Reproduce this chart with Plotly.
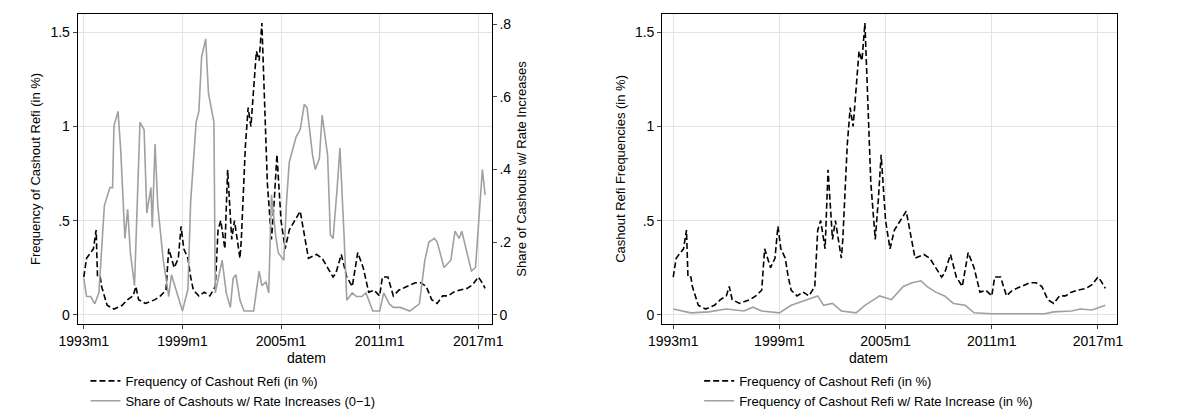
import plotly.graph_objects as go
from plotly.subplots import make_subplots

# months since 1993m1
refi_m = [0, 2, 5, 7, 9, 10, 12, 13, 17, 22, 28, 32, 36, 38, 40, 45, 52, 56, 60, 62, 64, 66, 69, 71, 73,
          76, 78, 80, 84, 88, 92, 96, 98, 100, 103, 105, 108, 110, 114, 115, 118, 120, 122, 124, 126,
          128, 130, 134, 137, 139, 141, 144, 147, 150, 154, 158, 164, 170, 174, 178, 182, 184, 188,
          192, 196, 200, 204, 208, 212, 216, 218, 222, 226, 230, 236, 242, 246, 250, 254, 258, 262,
          266, 270, 274, 280, 284, 288, 290, 293]
refi = [0.2, 0.3, 0.33, 0.35, 0.45, 0.2, 0.2, 0.15, 0.05, 0.03, 0.05, 0.08, 0.1, 0.15, 0.08, 0.06, 0.08,
        0.1, 0.13, 0.35, 0.3, 0.25, 0.3, 0.47, 0.35, 0.3, 0.2, 0.13, 0.1, 0.12, 0.1, 0.15, 0.45, 0.5,
        0.35, 0.77, 0.4, 0.5, 0.3, 0.4, 0.9, 1.1, 1.0, 1.2, 1.4, 1.35, 1.55, 0.7, 0.4, 0.6, 0.85, 0.5,
        0.35, 0.45, 0.5, 0.55, 0.3, 0.32, 0.3, 0.25, 0.2, 0.22, 0.32, 0.2, 0.15, 0.33, 0.25, 0.12, 0.13,
        0.1, 0.2, 0.2, 0.1, 0.13, 0.15, 0.17, 0.17, 0.15, 0.08, 0.06, 0.1, 0.1, 0.12, 0.13, 0.14, 0.16,
        0.2, 0.18, 0.14, 0.16]
refi = refi[:len(refi_m)]

share_m = [0, 2, 5, 8, 11, 15, 19, 21, 22, 25, 27, 30, 32, 34, 37, 41, 44, 46, 49, 50, 52, 54, 58, 62,
           64, 68, 72, 76, 78, 82, 84, 86, 89, 91, 95, 96, 101, 104, 107, 109, 111, 114, 117, 124, 128,
           130, 133, 135, 137, 140, 142, 146, 148, 150, 155, 158, 161, 163, 167, 169, 172, 174, 178,
           180, 182, 185, 187, 190, 192, 196, 199, 203, 206, 211, 216, 219, 223, 226, 231, 238, 245,
           249, 252, 256, 258, 263, 268, 271, 274, 276, 280, 283, 286, 289, 291, 293]
share = [0.1, 0.05, 0.05, 0.03, 0.06, 0.3, 0.35, 0.35, 0.52, 0.56, 0.45, 0.21, 0.29, 0.17, 0.08, 0.53,
         0.51, 0.28, 0.35, 0.24, 0.47, 0.3, 0.15, 0.05, 0.11, 0.06, 0.01, 0.07, 0.31, 0.53, 0.56, 0.71,
         0.76, 0.61, 0.53, 0.06, 0.15, 0.06, 0.02, 0.1, 0.11, 0.04, 0.01, 0.01, 0.12, 0.08, 0.09, 0.06,
         0.33, 0.22, 0.17, 0.15, 0.31, 0.42, 0.49, 0.51, 0.58, 0.57, 0.44, 0.4, 0.43, 0.55, 0.44, 0.22,
         0.21, 0.35, 0.46, 0.22, 0.04, 0.06, 0.05, 0.05, 0.06, 0.01, 0.01, 0.06, 0.03, 0.02, 0.02, 0.01,
         0.03, 0.15, 0.2, 0.21, 0.2, 0.13, 0.15, 0.23, 0.21, 0.23, 0.17, 0.12, 0.13, 0.3, 0.4, 0.33]

rate_m = [0, 6, 12, 24, 36, 48, 54, 60, 72, 80, 90, 98, 102, 108, 114, 124, 130, 136, 140, 148, 156,
          162, 168, 172, 178, 184, 190, 198, 204, 216, 234, 252, 258, 270, 276, 284, 293]
rate = [0.03, 0.02, 0.01, 0.015, 0.03, 0.02, 0.04, 0.02, 0.01, 0.05, 0.08, 0.1, 0.05, 0.06, 0.02, 0.01,
        0.05, 0.08, 0.1, 0.08, 0.15, 0.17, 0.18, 0.15, 0.12, 0.1, 0.06, 0.05, 0.01, 0.005, 0.005, 0.005,
        0.015, 0.02, 0.03, 0.025, 0.05]

tick_m = [0, 72, 144, 216, 288]
tick_lbl = ["1993m1", "1999m1", "2005m1", "2011m1", "2017m1"]

fig = make_subplots(rows=1, cols=2, specs=[[{"secondary_y": True}, {}]])

fig.add_trace(go.Scatter(x=refi_m, y=refi, mode="lines", name="Frequency of Cashout Refi (in %)",
                         line=dict(color="black", width=1.6, dash="6px,3px"), legend="legend"),
              row=1, col=1, secondary_y=False)
fig.add_trace(go.Scatter(x=share_m, y=share, mode="lines", name="Share of Cashouts w/ Rate Increases (0\u22121)",
                         line=dict(color="#a0a0a0", width=1.6), legend="legend"),
              row=1, col=1, secondary_y=True)
fig.add_trace(go.Scatter(x=refi_m, y=refi, mode="lines", name="Frequency of Cashout Refi (in %)",
                         line=dict(color="black", width=1.6, dash="6px,3px"), legend="legend2"),
              row=1, col=2)
fig.add_trace(go.Scatter(x=rate_m, y=rate, mode="lines", name="Frequency of Cashout Refi w/ Rate Increase (in %)",
                         line=dict(color="#a0a0a0", width=1.6), legend="legend2"),
              row=1, col=2)

ax = dict(showline=True, linecolor="black", linewidth=1, mirror=True, ticks="outside", ticklen=4,
          gridcolor="#e3e3e3", zeroline=False, tickfont=dict(size=14, color="black"))
fig.update_xaxes(**ax, tickvals=tick_m, ticktext=tick_lbl)
dom = [0.228, 0.985]
for xc in [(52 + 477) / 2400, (652 + 1119) / 2400]:
    fig.add_annotation(text="datem", x=xc, y=0.144, xref="paper", yref="paper",
                       showarrow=False, font=dict(size=14), yanchor="middle")
fig.update_layout(
    xaxis=dict(domain=[52 / 1200, 477 / 1200], range=[-4.5, 297.8]),
    xaxis2=dict(domain=[652 / 1200, 1119 / 1200], range=[-7.5, 301]),
    yaxis=dict(**ax, domain=dom, range=[-0.048, 1.597], tickvals=[0, 0.5, 1, 1.5],
               ticktext=["0", ".5", "1", "1.5"],
               title=dict(text="Frequency of Cashout Refi (in %)", font=dict(size=13), standoff=6)),
    yaxis2=dict(**{k: v for k, v in ax.items() if k != "gridcolor"}, showgrid=False,
                range=[-0.025, 0.828], tickvals=[0, 0.2, 0.4, 0.6, 0.8],
                ticktext=["0", ".2", ".4", ".6", ".8"],
                title=dict(text="Share of Cashouts w/ Rate Increases", font=dict(size=13), standoff=6)),
    yaxis3=dict(**ax, domain=dom, range=[-0.048, 1.597], tickvals=[0, 0.5, 1, 1.5],
                ticktext=["0", ".5", "1", "1.5"],
                title=dict(text="Cashout Refi Frequencies (in %)", font=dict(size=13), standoff=6)),
    legend=dict(x=60 / 1200, y=0.125, xanchor="left", yanchor="top", font=dict(size=13),
                tracegroupgap=0, itemwidth=30, bgcolor="rgba(0,0,0,0)"),
    legend2=dict(x=690 / 1200, y=0.125, xanchor="left", yanchor="top", font=dict(size=13),
                 tracegroupgap=0, itemwidth=30, bgcolor="rgba(0,0,0,0)"),
    width=1200, height=409, margin=dict(l=0, r=0, t=0, b=0),
    plot_bgcolor="white", paper_bgcolor="white",
    font=dict(family="Liberation Sans, Arial", color="black"),
)
fig.write_html("out.html")
